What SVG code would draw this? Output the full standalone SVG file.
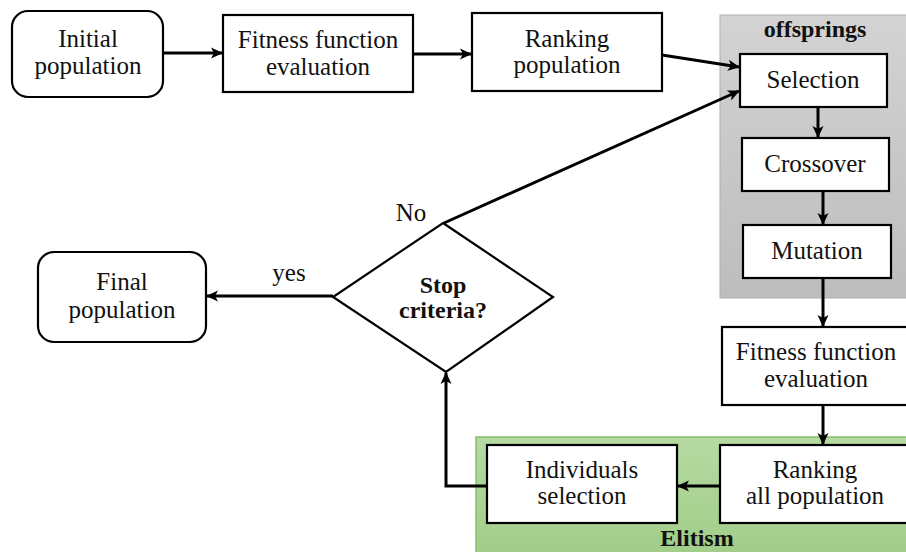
<svg xmlns="http://www.w3.org/2000/svg" width="906" height="552" viewBox="0 0 906 552">
<style>
.box{fill:#fff;stroke:#000;stroke-width:2.2}
.c{fill:none;stroke:#000;stroke-width:3}
</style>
<defs>
<marker id="ah" markerUnits="userSpaceOnUse" markerWidth="14" markerHeight="14" viewBox="0 0 14 14" refX="12" refY="7" orient="auto">
<path d="M1,1.5 L13,7 L1,12.5 L4,7 z" fill="#000"/>
</marker>
<linearGradient id="gg" x1="0" y1="0" x2="0" y2="1">
<stop offset="0" stop-color="#d3d3d3"/>
<stop offset="1" stop-color="#bdbdbd"/>
</linearGradient>
<linearGradient id="gr" x1="0" y1="0" x2="0" y2="1">
<stop offset="0" stop-color="#b6daa2"/>
<stop offset="1" stop-color="#a0cd88"/>
</linearGradient>
</defs>
<g font-family="Liberation Serif" font-size="25" fill="#111" text-anchor="middle">
<g id="offsprings">
<rect x="720" y="15" width="190" height="283" fill="url(#gg)" stroke="#b0b0b0" stroke-width="1"/>
<text x="815" y="37" font-weight="bold" font-size="24">offsprings</text>
</g>
<g id="elitism">
<rect x="476" y="437" width="434" height="120" fill="url(#gr)" stroke="#86c06a" stroke-width="1.5"/>
<text x="697" y="546" font-weight="bold" font-size="24">Elitism</text>
</g>

<g id="initial">
<rect class="box" x="12" y="11" width="151" height="86" rx="16"/>
<text x="88" y="47">Initial</text>
<text x="88" y="74">population</text>
</g>
<g id="fitness1">
<rect class="box" x="223" y="15" width="190" height="77"/>
<text x="318" y="48">Fitness function</text>
<text x="318" y="75">evaluation</text>
</g>
<g id="ranking1">
<rect class="box" x="472" y="13" width="190" height="78"/>
<text x="567" y="47">Ranking</text>
<text x="567" y="73">population</text>
</g>
<g id="selection">
<rect class="box" x="740" y="54" width="147" height="53"/>
<text x="813" y="88">Selection</text>
</g>
<g id="crossover">
<rect class="box" x="742" y="138" width="147" height="53"/>
<text x="815" y="172">Crossover</text>
</g>
<g id="mutation">
<rect class="box" x="743" y="225" width="148" height="53"/>
<text x="817" y="259">Mutation</text>
</g>
<g id="fitness2">
<rect class="box" x="722" y="327" width="200" height="78"/>
<text x="816" y="360">Fitness function</text>
<text x="816" y="387">evaluation</text>
</g>
<g id="ranking2">
<rect class="box" x="720" y="445" width="200" height="78"/>
<text x="815" y="478">Ranking</text>
<text x="815" y="504">all population</text>
</g>
<g id="individuals">
<rect class="box" x="487" y="445" width="190" height="78"/>
<text x="582" y="478">Individuals</text>
<text x="582" y="504">selection</text>
</g>
<g id="stop">
<polygon class="box" points="443,223 553,297 446,372 333,297" stroke-width="2"/>
<text x="443" y="293" font-weight="bold" font-size="24">Stop</text>
<text x="443" y="318" font-weight="bold" font-size="24">criteria?</text>
</g>
<g id="final">
<rect class="box" x="38" y="252" width="168" height="90" rx="16"/>
<text x="122" y="290">Final</text>
<text x="122" y="318">population</text>
</g>

<g id="connectors">
<line class="c" x1="163" y1="53" x2="222" y2="53" marker-end="url(#ah)"/>
<line class="c" x1="413" y1="54" x2="471" y2="54" marker-end="url(#ah)"/>
<line class="c" x1="662" y1="55" x2="739" y2="67" marker-end="url(#ah)"/>
<line class="c" x1="444" y1="223" x2="739" y2="91" marker-end="url(#ah)"/>
<line class="c" x1="818" y1="107" x2="818" y2="137" marker-end="url(#ah)"/>
<line class="c" x1="823" y1="191" x2="823" y2="224" marker-end="url(#ah)"/>
<line class="c" x1="823" y1="278" x2="823" y2="326" marker-end="url(#ah)"/>
<line class="c" x1="823" y1="405" x2="823" y2="444" marker-end="url(#ah)"/>
<line class="c" x1="720" y1="486" x2="678" y2="486" marker-end="url(#ah)"/>
<polyline class="c" points="487,486 446,486 446,373" marker-end="url(#ah)"/>
<line class="c" x1="333" y1="296" x2="207" y2="296" marker-end="url(#ah)"/>
<text x="411" y="221">No</text>
<text x="289" y="281">yes</text>
</g>
</g>
</svg>
